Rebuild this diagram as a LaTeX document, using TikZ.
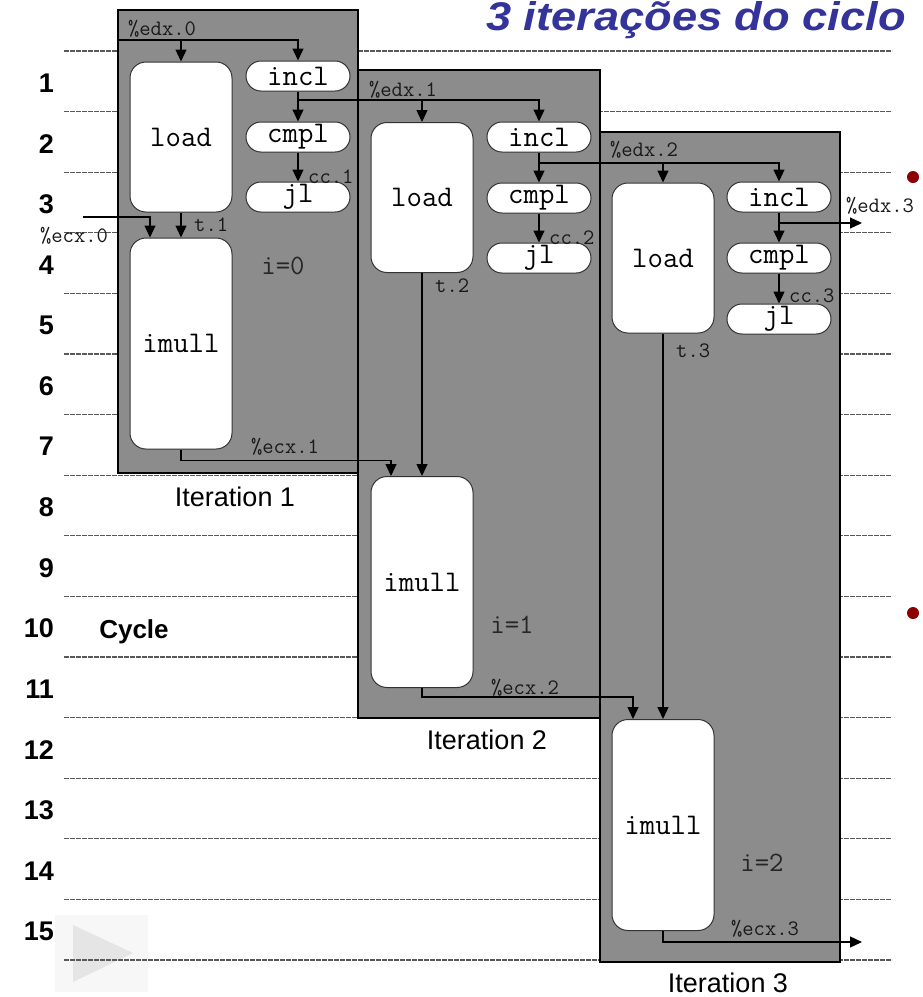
\documentclass[tikz,border=0pt]{standalone}
\usepackage{fontspec}
\usepackage{graphicx}
\setmainfont{Liberation Sans}
\usetikzlibrary{arrows.meta}
\definecolor{boxgray}{RGB}{140,140,140}
\definecolor{titleblue}{RGB}{51,51,153}
\definecolor{dotred}{RGB}{139,0,0}
\tikzset{
  iterbox/.style={draw=black, line width=1.3pt, fill=boxgray},
  opbig/.style={draw=black!80, line width=1pt, fill=white, rounded corners=16pt,
    minimum width=102pt, minimum height=150pt, inner sep=0pt,
    font=\fontsize{30}{30}\selectfont\ttfamily},
  opmul/.style={opbig, minimum height=211pt},
  oppill/.style={draw=black!80, line width=1pt, fill=white, rounded corners=15pt,
    minimum width=104pt, minimum height=30pt, inner sep=0pt,
    font=\fontsize{30}{30}\selectfont\ttfamily},
  flow/.style={line width=1.3pt, -{Triangle[length=12pt,width=11pt]}},
  reglabel/.style={font=\fontsize{22}{22}\selectfont\ttfamily, inner sep=0pt, text=black!90},
  ilabel/.style={font=\fontsize{28}{28}\selectfont\ttfamily, inner sep=0pt, text=black!85},
  numlabel/.style={font=\fontsize{27}{27}\selectfont\bfseries, inner sep=0pt, anchor=east},
  iterlabel/.style={font=\fontsize{27}{27}\selectfont, inner sep=0pt},
  gridline/.style={draw=black!65, line width=1.2pt, dash pattern=on 5pt off 1pt},
}
\begin{document}
\begin{tikzpicture}[x=1pt,y=-1pt]
\useasboundingbox (0,0) rectangle (922,997);

% play button
\fill[black!3] (55,915) rectangle (148,992);
\fill[black!10] (73,925) -- (133,953) -- (73,982) -- cycle;

% cycle grid lines
\foreach \j in {0,...,15}
  \draw[gridline] (64,{51+60.6*\j}) -- (892,{51+60.6*\j});

% cycle numbers
\foreach \k in {1,...,15}
  \node[numlabel] (n\k) at (54,{83+60.6*(\k-1)}) {\k};
\node[font=\fontsize{26}{26}\selectfont\bfseries, inner sep=0pt] (cyc) at (134,632) {Cycle};

% title
\node[font=\fontsize{40}{40}\selectfont\bfseries\itshape, text=titleblue, inner sep=0pt, anchor=east] (title) at (906,20) {\scalebox{1.13}[1]{3 iterações do ciclo}};

% bullets
\fill[dotred] (913,177) circle (6);
\fill[dotred] (913,613) circle (6);

% iteration boxes
\draw[iterbox] (118,10) rectangle (358,473);
\draw[iterbox] (358,70) rectangle (600,718);
\draw[iterbox] (600,132) rectangle (840,962);

% iteration 1
\node[opbig] (load1) at (181,137) {load};
\node[oppill] (incl1) at (298,76) {incl};
\node[oppill] (cmpl1) at (298,137) {cmpl};
\node[oppill] (jl1) at (298,197) {jl};
\node[opmul] (imull1) at (181,343.5) {imull};

% iteration 2
\node[opbig] (load2) at (422,197.5) {load};
\node[oppill] (incl2) at (539,137) {incl};
\node[oppill] (cmpl2) at (539,198) {cmpl};
\node[oppill] (jl2) at (539,258) {jl};
\node[opmul] (imull2) at (422,582) {imull};

% iteration 3
\node[opbig] (load3) at (663,258) {load};
\node[oppill] (incl3) at (779,197) {incl};
\node[oppill] (cmpl3) at (779,258) {cmpl};
\node[oppill] (jl3) at (779,319) {jl};
\node[opmul] (imull3) at (663,825) {imull};

% edx chain
\coordinate (e0) at (118,40);
\draw[flow] (e0) -| (incl1.north);
\draw[flow] (load1.north |- e0) -- (load1.north);
\draw[flow] (incl1) -- (cmpl1);
\coordinate (e1) at (298,100);
\draw[flow] (e1) -| (incl2.north);
\draw[flow] (load2.north |- e1) -- (load2.north);
\draw[flow] (incl2) -- (cmpl2);
\coordinate (e2) at (539,163);
\draw[flow] (e2) -| (incl3.north);
\draw[flow] (load3.north |- e2) -- (load3.north);
\draw[flow] (incl3) -- (cmpl3);
\coordinate (e3) at (862,223);
\draw[flow] (incl3.south) |- (e3);

% cc
\draw[flow] (cmpl1) -- (jl1);
\draw[flow] (cmpl2) -- (jl2);
\draw[flow] (cmpl3) -- (jl3);

% t
\draw[flow] (load1.south) -- (imull1.north);
\draw[flow] (load2.south) -- (imull2.north);
\draw[flow] (load3.south) -- (imull3.north);

% ecx chain
\coordinate (c0) at (83,217);
\draw[flow] (c0) -| ([xshift=-31pt]imull1.north);
\draw[flow] (imull1.south) -- ++(0,11) -| ([xshift=-31pt]imull2.north);
\draw[flow] (imull2.south) -- ++(0,9) -| ([xshift=-30pt]imull3.north);
\coordinate (c3) at (862,942);
\draw[flow] (imull3.south) |- (c3);

% register labels
\node[reglabel] (le0) at (162,29) {\%edx.0};
\node[reglabel] (le1) at (403,90) {\%edx.1};
\node[reglabel] (le2) at (644,150) {\%edx.2};
\node[reglabel] (le3) at (880,206) {\%edx.3};
\node[reglabel, anchor=west] (lc1) at (308,177) {cc.1};
\node[reglabel, anchor=west] (lc2) at (549,238) {cc.2};
\node[reglabel, anchor=west] (lc3) at (789,296) {cc.3};
\node[reglabel, anchor=west] (lt1) at (194,225) {t.1};
\node[reglabel, anchor=west] (lt2) at (435,286) {t.2};
\node[reglabel, anchor=west] (lt3) at (676,351) {t.3};
\node[reglabel] (lx0) at (74,236) {\%ecx.0};
\node[reglabel] (lx1) at (285,447) {\%ecx.1};
\node[reglabel] (lx2) at (525,688) {\%ecx.2};
\node[reglabel] (lx3) at (765,929) {\%ecx.3};

% loop index labels
\node[ilabel] (i0) at (283,266) {i=0};
\node[ilabel] (i1) at (512,625) {i=1};
\node[ilabel] (i2) at (762,863) {i=2};

% iteration labels
\node[iterlabel] (it1) at (235,497) {Iteration 1};
\node[iterlabel] (it2) at (487,740) {Iteration 2};
\node[iterlabel] (it3) at (728,983) {Iteration 3};
\end{tikzpicture}
\end{document}
